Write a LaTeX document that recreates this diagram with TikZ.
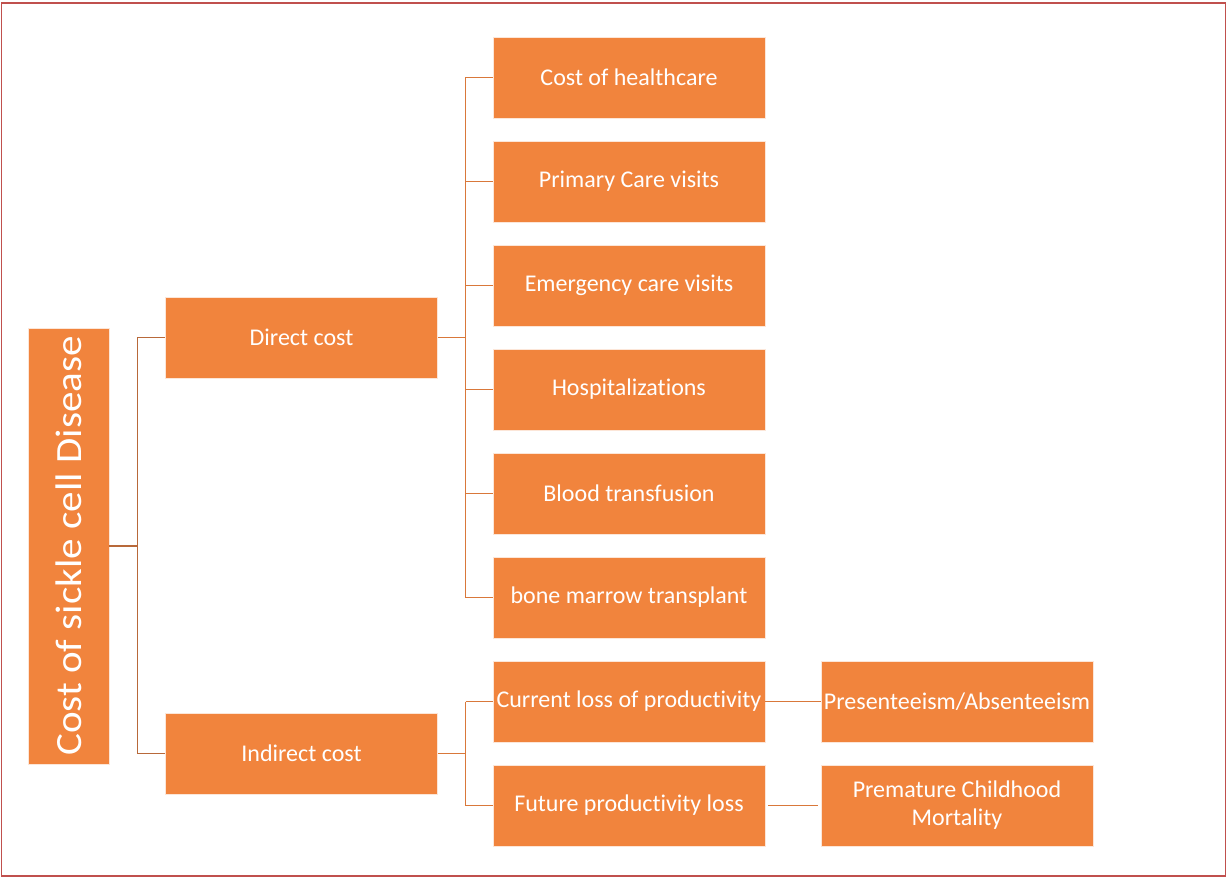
\documentclass[tikz,border=0pt]{standalone}
\usepackage{fontspec}
\setmainfont{Carlito}[Ligatures={NoCommon}]
\definecolor{boxfill}{HTML}{F1843D}
\definecolor{linec}{HTML}{D9783A}
\definecolor{linedark}{HTML}{B8693A}
\definecolor{framec}{HTML}{C0504D}
\begin{document}
\begin{tikzpicture}[x=1pt,y=-1pt,
  box/.style={draw=white!80!boxfill,line width=0.6pt,fill=boxfill,text=white,minimum width=272pt,minimum height=81pt,inner sep=1pt,align=center,font=\fontsize{24}{28}\selectfont},
  conn/.style={draw=linec,line width=1.8pt},
  conndark/.style={draw=linedark,line width=1.6pt}]
\useasboundingbox (0,0) rectangle (1227,877);
\draw[framec,line width=1.5pt] (1.5,3) rectangle (1225.5,876);
\node[box,minimum width=81pt,minimum height=436pt] (root) at (68.5,546) {};
\node[rotate=90,text=white,font=\fontsize{37}{44}\selectfont,xscale=1.11] (roottext) at (root.center) {Cost of sickle cell Disease};
\node[box] (direct) at (301.5,337.5) {Direct cost};
\node[box] (indirect) at (301.5,753.5) {Indirect cost};
\node[box] (d1) at (629,77.5) {Cost of healthcare};
\node[box] (d2) at (629,181.5) {Primary Care visits};
\node[box] (d3) at (629,285.5) {Emergency care visits};
\node[box] (d4) at (629,389.5) {Hospitalizations};
\node[box] (d5) at (629,493.5) {Blood transfusion};
\node[box] (d6) at (629,597.5) {bone marrow transplant};
\node[box] (i1) at (629,701.5) {Current loss of productivity};
\node[box] (i2) at (629,805.5) {Future productivity loss};
\node[box] (p1) at (957,701.5) {Presenteeism/Absenteeism};
\node[box] (p2) at (957,805.5) {Premature Childhood\\Mortality};
\coordinate (r1) at (137.5,546);
\draw[conndark] (root.east |- r1) -- (r1);
\draw[conndark] (r1 |- direct.west) -- (direct.west);
\draw[conndark] (r1 |- indirect.west) -- (indirect.west);
\draw[conndark] (r1 |- direct.west) -- (r1 |- indirect.west);
\coordinate (r2) at (465.5,337.5);
\draw[conn] (direct.east) -- (r2);
\draw[conn] (r2 |- d1.west) -- (r2 |- d6.west);
\foreach \n in {d1,d2,d3,d4,d5,d6} \draw[conn] (r2 |- \n.west) -- (\n.west);
\coordinate (r3) at (465.5,753.5);
\draw[conn] (indirect.east) -- (r3);
\draw[conn] (r3 |- i1.west) -- (r3 |- i2.west);
\foreach \n in {i1,i2} \draw[conn] (r3 |- \n.west) -- (\n.west);
\draw[conn] (i1.east) -- (p1.west);
\draw[conn] ([xshift=3pt]i2.east) -- ([xshift=-3pt]p2.west);
\end{tikzpicture}
\end{document}
